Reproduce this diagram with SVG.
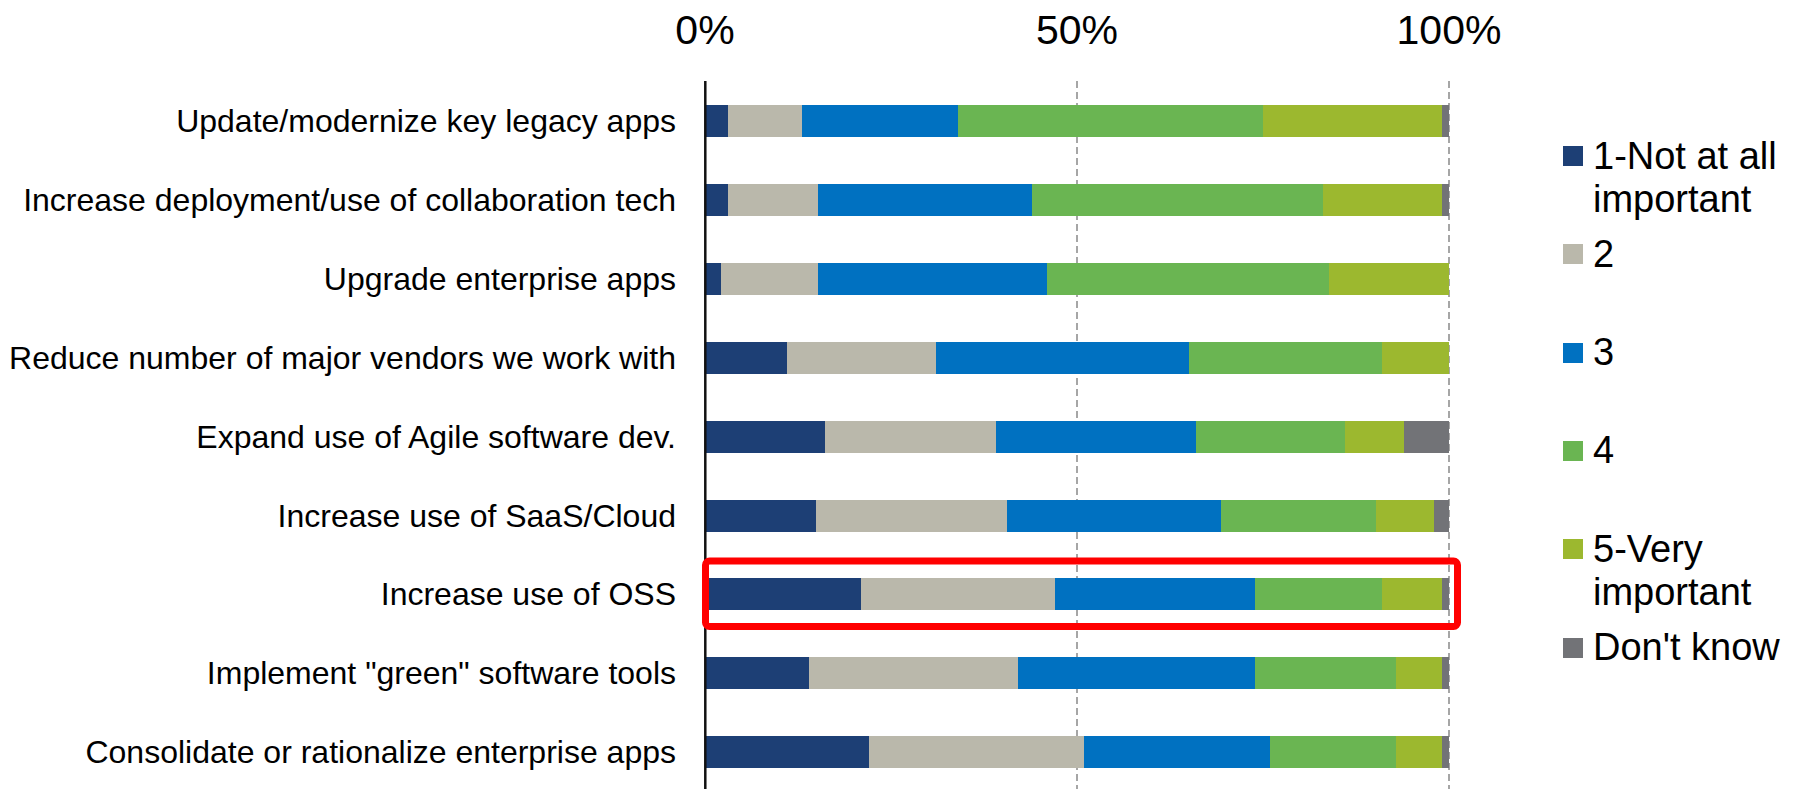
<svg xmlns="http://www.w3.org/2000/svg" width="1799" height="789" viewBox="0 0 1799 789">
<style>
text{font-family:"Liberation Sans",Arial,sans-serif;fill:#000}
.cat{font-size:32px;text-anchor:end}
.tick{font-size:41px;text-anchor:middle}
.leg{font-size:38px}
.c1{fill:#1D3F75}.c2{fill:#BAB8AB}.c3{fill:#0071C1}.c4{fill:#6AB552}.c5{fill:#9CB82F}.c6{fill:#727377}
.grid{stroke:#A6A6A6;stroke-width:2;stroke-dasharray:7 4;fill:none}
</style>
<rect width="1799" height="789" fill="#fff"/>
<g id="ticks">
<text class="tick" x="705" y="44">0%</text>
<text class="tick" x="1077" y="44">50%</text>
<text class="tick" x="1449" y="44">100%</text>
</g>
<g id="gridlines">
<line class="grid" x1="1077" y1="81" x2="1077" y2="789"/>
<line class="grid" x1="1449" y1="81" x2="1449" y2="789"/>
</g>
<g id="bar1">
<rect class="c1" x="706" y="105" width="22" height="32"/>
<rect class="c2" x="728" y="105" width="74" height="32"/>
<rect class="c3" x="802" y="105" width="156" height="32"/>
<rect class="c4" x="958" y="105" width="305" height="32"/>
<rect class="c5" x="1263" y="105" width="179" height="32"/>
<rect class="c6" x="1442" y="105" width="7" height="32"/>
<text class="cat" x="676" y="132">Update/modernize key legacy apps</text>
</g>
<g id="bar2">
<rect class="c1" x="706" y="184" width="22" height="32"/>
<rect class="c2" x="728" y="184" width="90" height="32"/>
<rect class="c3" x="818" y="184" width="214" height="32"/>
<rect class="c4" x="1032" y="184" width="291" height="32"/>
<rect class="c5" x="1323" y="184" width="119" height="32"/>
<rect class="c6" x="1442" y="184" width="7" height="32"/>
<text class="cat" x="676" y="211">Increase deployment/use of collaboration tech</text>
</g>
<g id="bar3">
<rect class="c1" x="706" y="263" width="15" height="32"/>
<rect class="c2" x="721" y="263" width="97" height="32"/>
<rect class="c3" x="818" y="263" width="229" height="32"/>
<rect class="c4" x="1047" y="263" width="282" height="32"/>
<rect class="c5" x="1329" y="263" width="120" height="32"/>
<text class="cat" x="676" y="290">Upgrade enterprise apps</text>
</g>
<g id="bar4">
<rect class="c1" x="706" y="342" width="81" height="32"/>
<rect class="c2" x="787" y="342" width="149" height="32"/>
<rect class="c3" x="936" y="342" width="253" height="32"/>
<rect class="c4" x="1189" y="342" width="193" height="32"/>
<rect class="c5" x="1382" y="342" width="67" height="32"/>
<text class="cat" x="676" y="369">Reduce number of major vendors we work with</text>
</g>
<g id="bar5">
<rect class="c1" x="706" y="421" width="119" height="32"/>
<rect class="c2" x="825" y="421" width="171" height="32"/>
<rect class="c3" x="996" y="421" width="200" height="32"/>
<rect class="c4" x="1196" y="421" width="149" height="32"/>
<rect class="c5" x="1345" y="421" width="59" height="32"/>
<rect class="c6" x="1404" y="421" width="45" height="32"/>
<text class="cat" x="676" y="448">Expand use of Agile software dev.</text>
</g>
<g id="bar6">
<rect class="c1" x="706" y="500" width="110" height="32"/>
<rect class="c2" x="816" y="500" width="191" height="32"/>
<rect class="c3" x="1007" y="500" width="214" height="32"/>
<rect class="c4" x="1221" y="500" width="155" height="32"/>
<rect class="c5" x="1376" y="500" width="58" height="32"/>
<rect class="c6" x="1434" y="500" width="15" height="32"/>
<text class="cat" x="676" y="527">Increase use of SaaS/Cloud</text>
</g>
<g id="bar7">
<rect class="c1" x="706" y="578" width="155" height="32"/>
<rect class="c2" x="861" y="578" width="194" height="32"/>
<rect class="c3" x="1055" y="578" width="200" height="32"/>
<rect class="c4" x="1255" y="578" width="127" height="32"/>
<rect class="c5" x="1382" y="578" width="60" height="32"/>
<rect class="c6" x="1442" y="578" width="7" height="32"/>
<text class="cat" x="676" y="605">Increase use of OSS</text>
</g>
<g id="bar8">
<rect class="c1" x="706" y="657" width="103" height="32"/>
<rect class="c2" x="809" y="657" width="209" height="32"/>
<rect class="c3" x="1018" y="657" width="237" height="32"/>
<rect class="c4" x="1255" y="657" width="141" height="32"/>
<rect class="c5" x="1396" y="657" width="46" height="32"/>
<rect class="c6" x="1442" y="657" width="7" height="32"/>
<text class="cat" x="676" y="684">Implement "green" software tools</text>
</g>
<g id="bar9">
<rect class="c1" x="706" y="736" width="163" height="32"/>
<rect class="c2" x="869" y="736" width="215" height="32"/>
<rect class="c3" x="1084" y="736" width="186" height="32"/>
<rect class="c4" x="1270" y="736" width="126" height="32"/>
<rect class="c5" x="1396" y="736" width="46" height="32"/>
<rect class="c6" x="1442" y="736" width="7" height="32"/>
<text class="cat" x="676" y="763">Consolidate or rationalize enterprise apps</text>
</g>
<g id="axis">
<line x1="705.3" y1="81" x2="705.3" y2="789" stroke="#111" stroke-width="2.5"/>
</g>
<g id="highlight">
<rect x="705.5" y="561" width="752" height="65.5" rx="4" fill="none" stroke="#FF0000" stroke-width="7"/>
</g>
<g id="legend">
<rect class="c1" x="1563" y="146" width="20" height="20"/>
<text class="leg" x="1593" y="169">1-Not at all</text>
<text class="leg" x="1593" y="212">important</text>
<rect class="c2" x="1563" y="244" width="20" height="20"/>
<text class="leg" x="1593" y="267">2</text>
<rect class="c3" x="1563" y="343" width="20" height="20"/>
<text class="leg" x="1593" y="365">3</text>
<rect class="c4" x="1563" y="441" width="20" height="20"/>
<text class="leg" x="1593" y="463">4</text>
<rect class="c5" x="1563" y="539" width="20" height="20"/>
<text class="leg" x="1593" y="562">5-Very</text>
<text class="leg" x="1593" y="605">important</text>
<rect class="c6" x="1563" y="638" width="20" height="20"/>
<text class="leg" x="1593" y="660">Don't know</text>
</g>
</svg>
